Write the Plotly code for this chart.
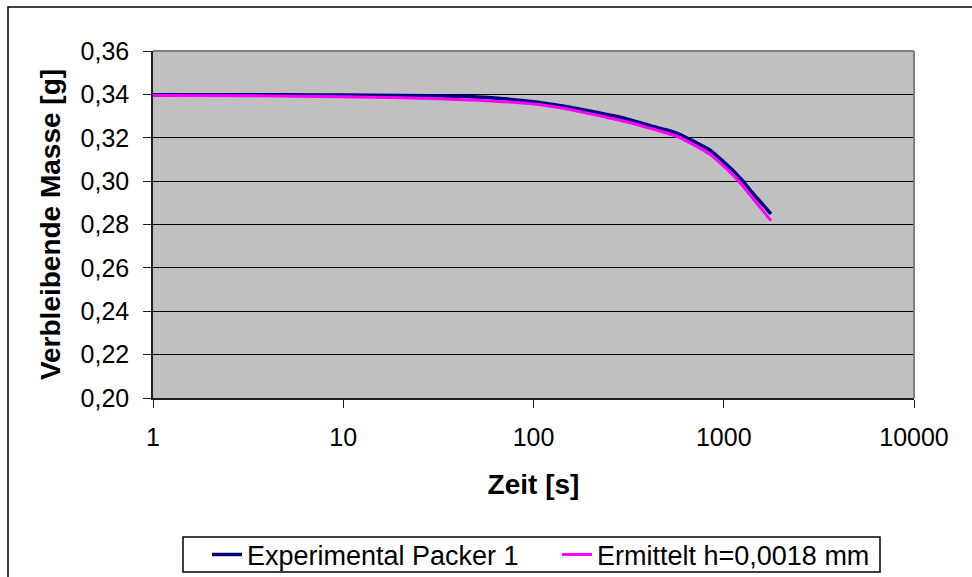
import plotly.graph_objects as go

# Measured remaining mass (experiment) over time
t_exp = [1, 5, 10, 20, 40, 60, 100, 150, 200, 300, 410, 500, 589, 700, 850, 1000, 1130, 1262, 1400, 1600, 1771]
m_exp = [0.3398, 0.3398, 0.3397, 0.3395, 0.3391, 0.3384, 0.3366, 0.3343, 0.3322, 0.3290, 0.3256,
         0.3236, 0.3215, 0.3182, 0.3142, 0.3088, 0.3045, 0.3000, 0.2950, 0.2893, 0.2849]

# Computed curve for h = 0.0018 mm
t_calc = [1, 3, 10, 20, 50, 100, 150, 200, 300, 410, 500, 589, 700, 847, 1000, 1100, 1200, 1400, 1600, 1771]
m_calc = [0.3395, 0.3394, 0.3389, 0.3385, 0.3373, 0.3356, 0.3333, 0.3310, 0.3276, 0.3244,
          0.3222, 0.3200, 0.3166, 0.3124, 0.3069, 0.3034, 0.2999, 0.2928, 0.2865, 0.2818]

x_ticks = [1, 10, 100, 1000, 10000]
x_tick_text = ["1", "10", "100", "1000", "10000"]
y_ticks = [0.20, 0.22, 0.24, 0.26, 0.28, 0.30, 0.32, 0.34, 0.36]

W, H = 972, 577
L, R, T, B = 153, 914, 51, 398
pw, ph = R - L, B - T

def px(x):
    return (x - L) / pw

def py(y):
    return (B - y) / ph

FONT = "Liberation Sans, Arial, sans-serif"
TICK = 25
TITLE = 28
LEG = 27

fig = go.Figure()
fig.add_trace(go.Scatter(x=t_exp, y=m_exp, mode="lines", name="Experimental Packer 1",
                         line=dict(color="#000080", width=3.5, shape="spline", smoothing=0.6)))
fig.add_trace(go.Scatter(x=t_calc, y=m_calc, mode="lines", name="Ermittelt h=0,0018 mm",
                         line=dict(color="#FF00FF", width=3, shape="spline", smoothing=0.6)))

fig.update_layout(
    width=W, height=H,
    margin=dict(l=L, r=W - R, t=T, b=H - B, pad=0, autoexpand=False),
    paper_bgcolor="white",
    plot_bgcolor="#C0C0C0",
    separators=",.",
    font=dict(family=FONT, color="black", size=TICK),
    showlegend=True,
    legend=dict(orientation="h", x=px(557), xanchor="center", y=py(555), yanchor="middle",
                borderwidth=0, bgcolor="rgba(0,0,0,0)", entrywidth=305,
                font=dict(size=LEG, family=FONT), tracegroupgap=0),
    xaxis=dict(type="log", range=[0, 4], tickvals=x_ticks, ticktext=x_tick_text,
               showgrid=False, zeroline=False, showline=True, linecolor="#202020", linewidth=1.5,
               ticks="outside", ticklen=8, tickcolor="#202020", tickfont=dict(size=TICK),
               ticklabelstandoff=8, automargin=False,
               title=dict(text="<b>Zeit [s]</b>", font=dict(size=TITLE), standoff=25)),
    yaxis=dict(range=[0.20, 0.36], tickvals=y_ticks, tickformat=".2f",
               showgrid=True, gridcolor="black", gridwidth=1, zeroline=False,
               showline=True, linecolor="#202020", linewidth=1.5,
               ticks="outside", ticklen=8, tickcolor="#202020", tickfont=dict(size=TICK),
               ticklabelstandoff=9, automargin=False,
               title=dict(text="<b>Verbleibende Masse [g]</b>", font=dict(size=TITLE), standoff=12)),
    shapes=[
        # gray frame on the top and right of the plot area
        dict(type="line", xref="paper", yref="paper", x0=0, x1=1, y0=1, y1=1,
             line=dict(color="#808080", width=2)),
        dict(type="line", xref="paper", yref="paper", x0=1, x1=1, y0=0, y1=1,
             line=dict(color="#808080", width=2)),
        # outer chart border
        dict(type="rect", xref="paper", yref="paper", x0=px(8), x1=px(990), y0=py(7), y1=py(600),
             line=dict(color="black", width=1.5), fillcolor="rgba(0,0,0,0)"),
        # legend frame
        dict(type="rect", xref="paper", yref="paper", x0=px(183), x1=px(880), y0=py(537), y1=py(572),
             line=dict(color="black", width=1.5), fillcolor="white"),
    ],
)

fig.write_html("out.html")
